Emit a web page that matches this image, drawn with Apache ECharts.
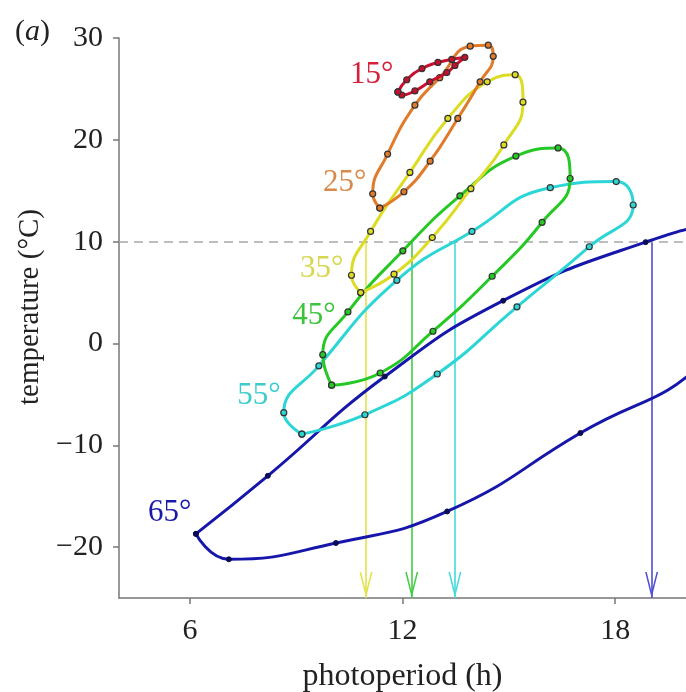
<!DOCTYPE html>
<html>
<head>
<meta charset="utf-8">
<script src="https://cdn.jsdelivr.net/npm/echarts@6/dist/echarts.min.js"></script>
<style>
  html, body { margin: 0; padding: 0; background: #fff; }
  #chart { width: 686px; height: 692px; }
</style>
</head>
<body>
<div id="chart"></div>
<script>
// loops of monthly mean [photoperiod (h), temperature (°C)] for each latitude
var lat15 = [[11.87, 24.7], [12.12, 25.9], [12.55, 27.0], [13.0, 27.6], [13.39, 27.9], [13.76, 28.1],
  [13.48, 27.3], [13.25, 26.6], [12.77, 25.7], [12.35, 24.8], [11.98, 24.4]];
var lat25 = [[11.36, 13.3], [11.16, 14.7], [11.58, 18.6], [12.35, 23.4], [13.05, 26.1], [13.91, 29.2],
  [14.42, 29.3], [14.56, 28.2], [14.19, 25.7], [13.56, 22.1], [12.78, 17.9], [12.04, 14.9]];
var lat35 = [[10.82, 5.0], [10.56, 6.7], [11.10, 11.0], [12.21, 16.8], [13.28, 22.1], [14.39, 25.7],
  [15.18, 26.4], [15.40, 23.7], [14.86, 19.5], [13.93, 15.2], [12.84, 10.4], [11.76, 6.8]];
var lat45 = [[10.0, -4.1], [9.75, -1.1], [10.46, 3.1], [12.01, 9.1], [13.62, 14.5], [15.20, 18.4],
  [16.39, 19.2], [16.73, 16.2], [15.94, 11.9], [14.53, 6.6], [12.86, 1.2], [11.37, -2.9]];
var lat55 = [[9.16, -8.9], [8.65, -6.8], [9.64, -2.2], [11.84, 6.2], [13.96, 11.0], [16.17, 15.3],
  [18.03, 15.9], [18.51, 13.6], [17.27, 9.5], [15.23, 3.6], [12.98, -3.0], [10.94, -7.0]];
var lat65 = [[6.17, -18.7], [7.10, -21.2], [10.12, -19.6], [13.26, -16.5], [17.02, -8.8], [20.6, -1.5],
  [21.8, 7.0], [21.0, 11.5], [18.86, 9.95], [14.84, 4.2], [11.50, -3.25], [8.20, -13.0]];

var loopNames = ['15°', '25°', '35°', '45°', '55°', '65°'];
var loops = [lat15, lat25, lat35, lat45, lat55, lat65];
var loopColors = ['#c8102e', '#e07b2a', '#dcdc24', '#26c826', '#2cd6d6', '#1616aa'];
var labelColors = ['#d6203a', '#d98a4a', '#d6d650', '#3cc43c', '#3ccccc', '#1a1aaa'];
// where each loop label sits
var labelPos = [[11.13, 26.4], [10.37, 15.8], [9.72, 7.3], [9.50, 2.7], [7.95, -5.1], [5.43, -16.6]];

// photoperiod where the loop crosses 10 °C (arrows)
var threshold = 10;
var arrowX = [null, null, 10.97, 12.26, 13.48, 19.03];
var arrowColors = [null, null, '#e2e24a', '#44cc44', '#44dada', '#4e4ed6'];

var xTicks = [6, 12, 18];
var yTicks = [-20, -10, 0, 10, 20, 30];

var serif = '"Liberation Serif", "DejaVu Serif", serif';
// open V arrow head, tip sits at the centre of the box
var chevron = 'path://M5,10 L10,20 L8.8,20 L5,12.4 L1.2,20 L0,20 Z M5,0 L5,0.01';

var chart = echarts.init(document.getElementById('chart'));

var series = loops.map(function (pts, i) {
  var s = {
    name: loopNames[i],
    type: 'line',
    data: pts.concat([pts[0]]),
    smooth: 0.5,
    showAllSymbol: true,
    symbol: 'circle',
    symbolSize: i === 5 ? 5 : 6,
    lineStyle: { color: loopColors[i], width: 3 },
    itemStyle: i === 5
      ? { color: '#0c0c55', borderColor: '#0c0c55', borderWidth: 1 }
      : { color: loopColors[i], borderColor: '#333', borderWidth: 1.2 },
    z: 10 - i,
    markPoint: {
      symbol: 'circle',
      symbolSize: 0,
      silent: true,
      label: {
        show: true,
        position: 'inside',
        formatter: loopNames[i],
        color: labelColors[i],
        fontFamily: serif,
        fontSize: 31
      },
      data: [{ coord: labelPos[i] }]
    }
  };
  if (arrowX[i] !== null) {
    s.markLine = {
      silent: true,
      symbol: ['none', chevron],
      symbolSize: [13, 52],
      label: { show: false },
      lineStyle: { color: arrowColors[i], width: 1.6, type: 'solid' },
      data: [[{ coord: [arrowX[i], threshold] }, { coord: [arrowX[i], -25] }]]
    };
  }
  return s;
});

// dashed 10 °C line
series.push({
  type: 'line',
  data: [],
  z: 1,
  markLine: {
    silent: true,
    symbol: ['none', 'none'],
    label: { show: false },
    lineStyle: { color: '#a8a8a8', width: 1.5, type: [9, 6] },
    data: [{ yAxis: threshold }]
  }
});

function minus(v) {
  return String(v).replace('-', '\u2212');
}

chart.setOption({
  animation: false,
  backgroundColor: '#fff',
  title: {
    text: '{p|(}{i|a}{p|)}',
    left: 10,
    top: 12,
    textStyle: {
      fontWeight: 'normal',
      rich: {
        p: { fontFamily: serif, fontSize: 30, color: '#222', fontWeight: 'normal' },
        i: { fontFamily: serif, fontSize: 30, fontStyle: 'italic', color: '#222', fontWeight: 'normal' }
      }
    }
  },
  grid: { left: 119, right: 0, top: 38, bottom: 94, outerBoundsMode: 'none' },
  xAxis: {
    type: 'value',
    min: 4,
    max: 20,
    name: 'photoperiod (h)',
    nameLocation: 'middle',
    nameGap: 63,
    nameTextStyle: { fontFamily: serif, fontSize: 32, color: '#222' },
    axisLine: { show: true, onZero: false, lineStyle: { color: '#777', width: 1.5 } },
    axisTick: { show: true, length: 6, customValues: xTicks, lineStyle: { color: '#777', width: 1.5 } },
    axisLabel: { customValues: xTicks, fontFamily: serif, fontSize: 30, color: '#222', margin: 18 },
    splitLine: { show: false }
  },
  yAxis: {
    type: 'value',
    min: -25,
    max: 30,
    name: 'temperature (°C)',
    nameLocation: 'middle',
    nameGap: 72,
    nameTextStyle: { fontFamily: serif, fontSize: 29, color: '#222', padding: [0, 0, 0, 22] },
    axisLine: { show: true, onZero: false, lineStyle: { color: '#777', width: 1.5 } },
    axisTick: { show: true, length: 6, customValues: yTicks, lineStyle: { color: '#777', width: 1.5 } },
    axisLabel: { customValues: yTicks, formatter: minus, fontFamily: serif, fontSize: 30, color: '#222', margin: 16 },
    splitLine: { show: false }
  },
  series: series
});
</script>
</body>
</html>
